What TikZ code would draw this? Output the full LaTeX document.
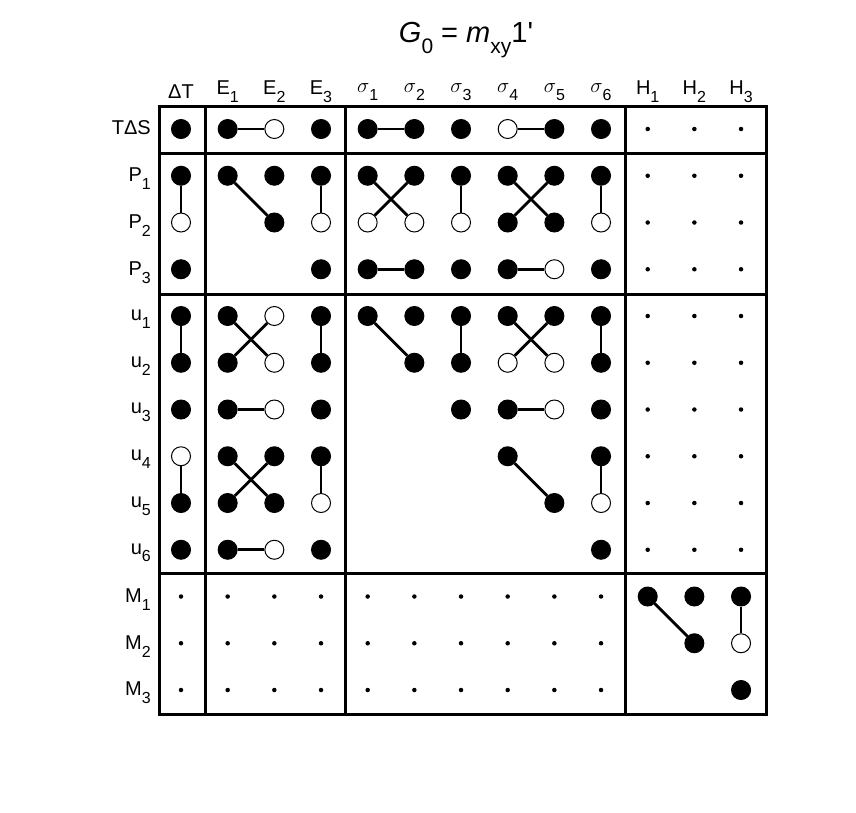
\documentclass[tikz,border=0pt]{standalone}
\usepackage{fontspec}
\setmainfont{Liberation Sans}
\newcommand{\sbs}[1]{\raisebox{-0.75ex}{\fontsize{16}{16}\selectfont #1}}
\begin{document}
\begin{tikzpicture}[x=1pt,y=-1pt,
  fc/.style={circle,fill=black,draw=black,line width=1pt,minimum size=19pt,inner sep=0pt},
  oc/.style={circle,fill=white,draw=black,line width=1pt,minimum size=19pt,inner sep=0pt},
  dt/.style={circle,fill=black,minimum size=4.5pt,inner sep=0pt},
  cl/.style={line width=2.8pt},
  bx/.style={line width=3pt},
  lab/.style={font=\fontsize{20}{20}\selectfont,inner sep=0pt}]
\useasboundingbox (0,0) rectangle (856,812);
\node[lab,font=\fontsize{29}{29}\selectfont] (title) at (466,40) {\textit{G}\raisebox{-0.75ex}{\fontsize{21}{21}\selectfont 0} = \textit{m}\raisebox{-0.75ex}{\fontsize{21}{21}\selectfont xy}1\textquotesingle};
\foreach \i/\t in {0/{ΔT},1/{E\sbs{1}},2/{E\sbs{2}},3/{E\sbs{3}},4/{$\sigma$\sbs{1}},5/{$\sigma$\sbs{2}},6/{$\sigma$\sbs{3}},7/{$\sigma$\sbs{4}},8/{$\sigma$\sbs{5}},9/{$\sigma$\sbs{6}},10/{H\sbs{1}},11/{H\sbs{2}},12/{H\sbs{3}}}
  \node[lab] (h\i) at ({181+46.67*\i},92) {\t};
\foreach \j/\t in {0/{TΔS},1/{P\sbs{1}},2/{P\sbs{2}},3/{P\sbs{3}},4/{u\sbs{1}},5/{u\sbs{2}},6/{u\sbs{3}},7/{u\sbs{4}},8/{u\sbs{5}},9/{u\sbs{6}},10/{M\sbs{1}},11/{M\sbs{2}},12/{M\sbs{3}}}
  \node[lab,anchor=east] (r\j) at (151,{128+46.75*\j+(\j>0?4:0)}) {\t};
\draw[bx] (159,106) rectangle (766,714);
\foreach \x in {205,345,625} \draw[bx] (\x,106) -- (\x,714);
\foreach \y in {153,294,573} \draw[bx] (159,\y) -- (766,\y);
\foreach \i in {10,11,12} \foreach \j in {0,...,9}
  \node[dt] (d-\i-\j) at ({181+46.67*\i},{129+46.75*\j}) {};
\foreach \i in {0,...,9} \foreach \j in {10,11,12}
  \node[dt] (d-\i-\j) at ({181+46.67*\i},{129+46.75*\j}) {};
\foreach \i/\j in {0/0,1/0,3/0,4/0,5/0,6/0,8/0,9/0,
  0/1,0/3,1/1,2/1,2/2,3/1,3/3,4/1,5/1,6/1,7/1,8/1,7/2,8/2,9/1,4/3,5/3,6/3,7/3,9/3,
  0/4,0/5,0/6,0/8,0/9,1/4,1/5,1/6,1/7,2/7,1/8,2/8,1/9,3/4,3/5,3/6,3/7,3/9,
  4/4,5/4,5/5,6/4,6/5,7/4,8/4,9/4,9/5,6/6,7/6,9/6,7/7,8/8,9/7,9/9,
  10/10,11/10,11/11,12/10,12/12}
  \node[fc] (n-\i-\j) at ({181+46.67*\i},{129+46.75*\j}) {};
\foreach \i/\j in {2/0,7/0,0/2,3/2,4/2,5/2,6/2,9/2,8/3,
  0/7,2/4,2/5,2/6,2/9,3/8,7/5,8/5,8/6,9/8,12/11}
  \node[oc] (n-\i-\j) at ({181+46.67*\i},{129+46.75*\j}) {};
\foreach \a/\b/\c/\d in {1/0/2/0,4/0/5/0,7/0/8/0,
  0/1/0/2,1/1/2/2,3/1/3/2,4/1/5/2,5/1/4/2,6/1/6/2,7/1/8/2,8/1/7/2,9/1/9/2,
  4/3/5/3,7/3/8/3,
  0/4/0/5,0/7/0/8,1/4/2/5,2/4/1/5,1/6/2/6,1/7/2/8,2/7/1/8,1/9/2/9,
  3/4/3/5,3/7/3/8,4/4/5/5,6/4/6/5,7/4/8/5,8/4/7/5,9/4/9/5,
  7/6/8/6,7/7/8/8,9/7/9/8,
  10/10/11/11,12/10/12/11}
  \draw[cl] (n-\a-\b) -- (n-\c-\d);
\end{tikzpicture}
\end{document}
